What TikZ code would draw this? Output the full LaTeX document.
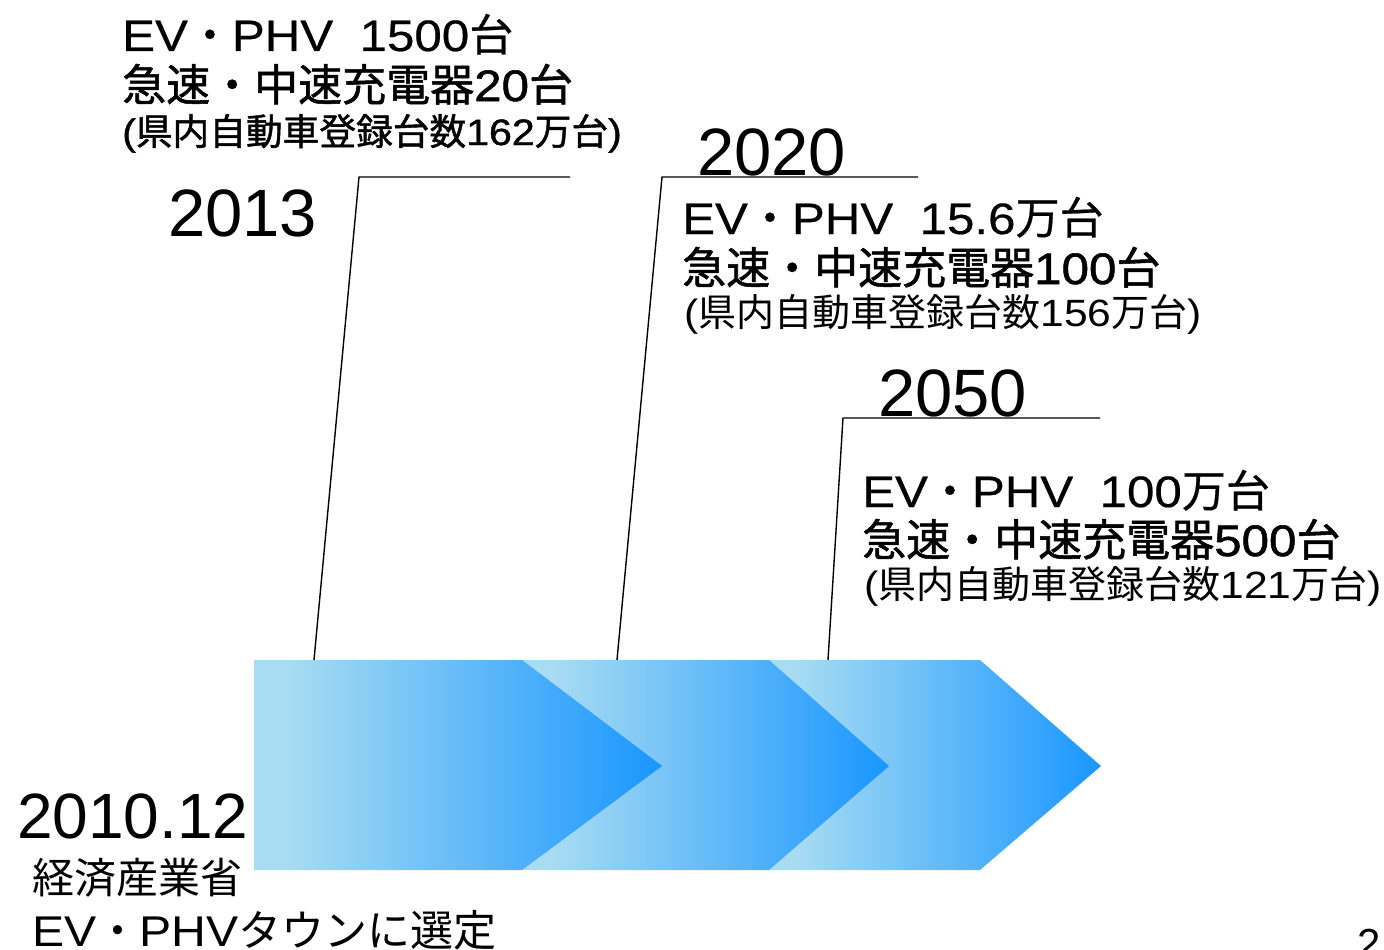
\documentclass[tikz,border=0pt]{standalone}
\usepackage{fontspec}
\setmainfont{Noto Sans CJK JP}
\newfontfamily\yearfont{Liberation Sans}
\newfontfamily\cjkA[FakeBold=0.5]{Noto Sans CJK JP}
\newfontfamily\cjkB[FakeBold=1.2]{Noto Sans CJK JP}
\newfontfamily\latA[FakeBold=0.5,FakeStretch=1.12]{Liberation Sans}
\newfontfamily\latB[FakeBold=1.2,FakeStretch=1.12]{Liberation Sans}
\newfontfamily\latR[FakeStretch=1.12]{Liberation Sans}
\newcommand\LA[1]{{\latA #1}}
\newcommand\LB[1]{{\latB #1}}
\newcommand\LR[1]{{\latR #1}}
\definecolor{chevlight}{RGB}{168,220,242}
\definecolor{chevdark}{RGB}{25,150,255}
\pgfdeclarehorizontalshading{chevshade}{100bp}{color(0bp)=(chevlight); color(29bp)=(chevlight); color(75bp)=(chevdark); color(100bp)=(chevdark)}
\begin{document}
\begin{tikzpicture}[x=1pt,y=-1pt]
\useasboundingbox (0,0) rectangle (1384,950);
\tikzset{
 chev/.style={shading=chevshade, draw=none},
 lead/.style={black, line width=1.4pt},
 yeartext/.style={font=\yearfont\fontsize{67}{67}\selectfont, anchor=base west, inner sep=0pt},
 lineA/.style={font=\cjkA\fontsize{44}{44}\selectfont, anchor=base west, inner sep=0pt},
 lineB/.style={font=\cjkB\fontsize{44}{44}\selectfont, anchor=base west, inner sep=0pt},
 smalltext/.style={font=\fontsize{38}{38}\selectfont, anchor=base west, inner sep=0pt},
 plaintext/.style={font=\fontsize{42}{42}\selectfont, anchor=base west, inner sep=0pt},
}
% chevrons
\shade[chev] (768,660) -- (980,660) -- (1101,766) -- (980,870) -- (768,870) -- cycle;
\shade[chev] (522,660) -- (769,660) -- (889,766) -- (769,870) -- (522,870) -- cycle;
\shade[chev] (254,660) -- (522,660) -- (662,766) -- (522,870) -- (254,870) -- cycle;
% leader coordinates
\coordinate (a1) at (314,660); \coordinate (b1) at (359,177); \coordinate (c1) at (570,177);
\coordinate (a2) at (617,660); \coordinate (b2) at (662,177); \coordinate (c2) at (918,177);
\coordinate (a3) at (828,660); \coordinate (b3) at (843,418); \coordinate (c3) at (1100,418);
\draw[lead] (a1) -- (b1) -- (c1);
\draw[lead] (a2) -- (b2) -- (c2);
\draw[lead] (a3) -- (b3) -- (c3);
% 2013 block
\node[lineA] (t1a) at (122,51) {\LA{EV}・\LA{PHV}\hspace{0.6em}\LA{1500}台};
\node[lineB] (t1b) at (122,101) {急速・中速充電器\LB{20}台};
\node[smalltext, font=\cjkB\fontsize{36.7}{37}\selectfont] (t1c) at (122,145) {\LB{(}県内自動車登録台数\LB{162}万台\LB{)}};
\node[yeartext] (y2013) at (168,236) {2013};
% 2020 block
\node[yeartext] (y2020) at (697,175) {2020};
\node[lineA] (t2a) at (682,234) {\LA{EV}・\LA{PHV}\hspace{0.6em}\LA{15.6}万台};
\node[lineB] (t2b) at (682,284) {急速・中速充電器\LB{100}台};
\node[smalltext] (t2c) at (684,326) {\LR{(}県内自動車登録台数\LR{156}万台\LR{)}};
% 2050 block
\node[yeartext] (y2050) at (878,416) {2050};
\node[lineA] (t3a) at (862,507) {\LA{EV}・\LA{PHV}\hspace{0.6em}\LA{100}万台};
\node[lineB] (t3b) at (862,556) {急速・中速充電器\LB{500}台};
\node[smalltext] (t3c) at (864,598) {\LR{(}県内自動車登録台数\LR{121}万台\LR{)}};
% 2010.12
\node[yeartext, font=\yearfont\fontsize{64}{64}\selectfont] (y2010) at (17,838) {2010.12};
\node[plaintext] (m1) at (32,893) {経済産業省};
\node[plaintext, font=\fontsize{43}{43}\selectfont] (m2) at (32,946) {\LR{EV}・\LR{PHV}タウンに選定};
\node[yeartext, font=\yearfont\fontsize{42}{42}\selectfont] (pg) at (1357,958) {2};
\end{tikzpicture}
\end{document}
